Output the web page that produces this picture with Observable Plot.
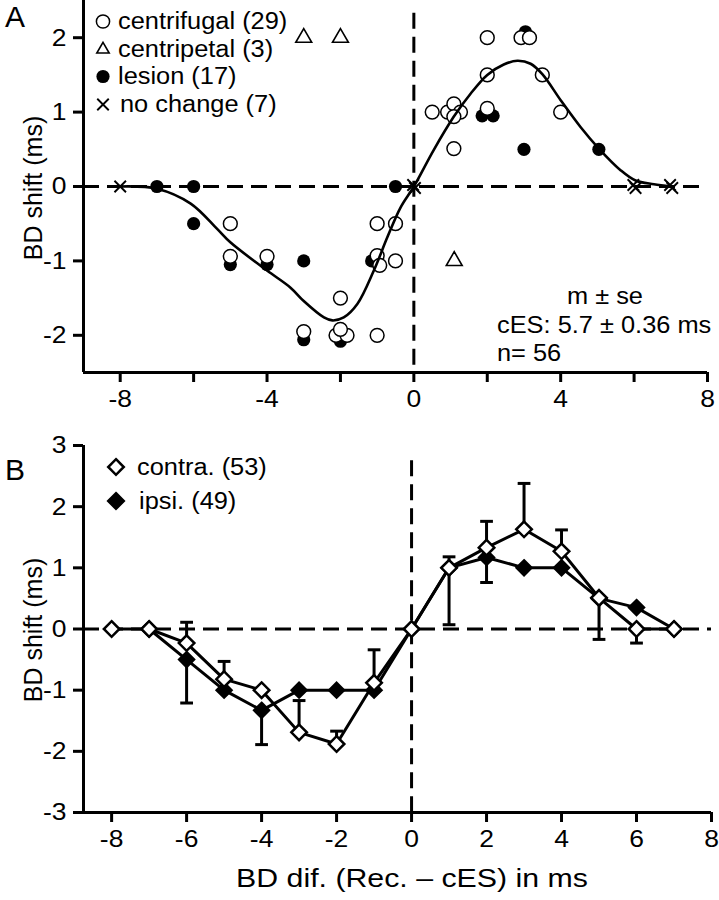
<!DOCTYPE html>
<html><head><meta charset="utf-8">
<script src="https://cdn.jsdelivr.net/npm/d3@7"></script>
<script src="https://cdn.jsdelivr.net/npm/@observablehq/plot@0.6"></script>
<style>
body{margin:0;background:#fff;}
#wrap{position:relative;width:719px;height:900px;background:#fff;}
#wrap svg{position:absolute;left:0;}
</style></head><body><div id="wrap"></div>
<script>
// ---------- Panel A data ----------
const centrifugalX = [-5,-5,-4,-3,-2,-2.12,-1.82,-2,-1,-1,-0.5,-1,-0.93,-0.5,0.5,0.92,1.09,1.27,1.09,1.09,2,2,2.92,3.15,2,3.5,4];
const centrifugalY = [-0.5,-0.94,-0.94,-1.95,-1.5,-2,-2,-1.92,-2,-0.5,-0.5,-0.93,-1.06,-1,1,1,1.11,1,0.94,0.51,1.05,2,2,2,1.5,1.5,1];
const centripetalX = [-3,-2,1.1];
const centripetalY = [2,2,-1];
const lesionX = [-7,-6,-6,-5,-4,-3,-3,-2,-1.15,-0.5,1.09,1.86,2.16,3.04,3,5.04];
const lesionY = [0,0,-0.5,-1.05,-1.05,-1,-2.06,-2.08,-1,0,1,0.95,0.95,2.08,0.5,0.5];
const noChangeX = [-8,-0.02,0.03,5.98,6.04,6.98,7.04];
const noChangeY = [0,0.02,-0.02,0.02,-0.02,0.02,-0.02];
const fitX = [-8,-7,-6.08,-5.36,-5,-4,-3.36,-3,-2.45,-2.22,-1.91,-1.54,-1.09,-0.72,-0.36,0,0.54,1.09,1.55,2,2.45,2.82,3.18,3.5,4,4.54,5.04,5.63,6.04,6.54,7];
const fitY = [0,-0.03,-0.23,-0.57,-0.75,-1.13,-1.36,-1.54,-1.76,-1.8,-1.76,-1.58,-1.13,-0.68,-0.28,0,0.49,0.94,1.25,1.5,1.64,1.69,1.65,1.51,1.16,0.8,0.51,0.22,0.08,0.03,0];
const legendA = ["centrifugal (29)","centripetal (3)","lesion (17)","no change (7)"];
const statsA = ["m \u00b1 se","cES: 5.7 \u00b1 0.36 ms","n= 56"];
const xTicks = [-8,-6,-4,-2,0,2,4,6,8];
const yTicksA = [-2,-1,0,1,2];

// ---------- Panel B data ----------
const contraX = [-8,-7,-6,-5,-4,-3,-2,-1,0,1,2,3,4,5,6,7];
const contraY = [0,0,-0.23,-0.82,-1.0,-1.69,-1.88,-0.88,0,1.0,1.33,1.63,1.27,0.51,0,0];
const ipsiX = [-7,-6,-5,-4,-3,-2,-1,0,1,2,3,4,5,6,7];
const ipsiY = [0,-0.5,-1.0,-1.33,-1.0,-1.0,-1.0,0,1.0,1.17,1.0,1.0,0.5,0.35,0];
const errX    = [-6,-6,-5,-4,-3,-2,-1,1,1,2,2,3,4,5,6];
const errFrom = [-0.23,-0.5,-0.82,-1.33,-1.69,-1.88,-0.88,1.0,1.0,1.33,1.17,1.63,1.27,0.51,0];
const errTo   = [0.11,-1.21,-0.53,-1.89,-1.17,-1.67,-0.34,1.18,0.07,1.76,0.76,2.38,1.62,-0.17,-0.23];
const legendB = ["contra. (53)","ipsi. (49)"];
const yTicksB = [-3,-2,-1,0,1,2,3];

const zip = (xs, ys) => xs.map((x, i) => ({x, y: ys[i]}));
const centrifugal = zip(centrifugalX, centrifugalY);
const centripetal = zip(centripetalX, centripetalY);
const lesion = zip(lesionX, lesionY);
const noChange = zip(noChangeX, noChangeY);
const fit = zip(fitX, fitY);
const contra = zip(contraX, contraY);
const ipsi = zip(ipsiX, ipsiY);
const errs = errX.map((x, i) => ({x, from: errFrom[i], to: errTo[i]}));

const FONT = "'Liberation Sans', Arial, Helvetica, sans-serif";
const DASH = "16,8";
const CAP = 0.17; // half cap width in x units
const TICKFS = 24.5;

const wrap = document.getElementById("wrap");

// ---------- Panel A ----------
const plotA = Plot.plot({
  width: 719, height: 430,
  marginLeft: 83, marginRight: 12, marginTop: 0, marginBottom: 58,
  style: {fontFamily: FONT, background: "transparent", overflow: "visible"},
  x: {domain: [-9, 8]},
  y: {domain: [-2.5, 2.5]},
  marks: [
    Plot.ruleY([0], {strokeWidth: 3, strokeDasharray: DASH}),
    Plot.ruleX([0], {y1: 2.33, y2: -2.5, strokeWidth: 3, strokeDasharray: DASH}),
    Plot.dot(lesion, {x: "x", y: "y", r: 6.6, fill: "black", stroke: "none"}),
    Plot.dot(centrifugal, {x: "x", y: "y", r: 6.9, fill: "white", stroke: "black", strokeWidth: 1.5}),
    Plot.dot(centripetal, {x: "x", y: "y", symbol: "triangle", r: 5.9, fill: "white", stroke: "black", strokeWidth: 1.6}),
    Plot.dot(noChange, {x: "x", y: "y", symbol: "times", r: 5.3, stroke: "black", strokeWidth: 1.9}),
    Plot.line(fit, {x: "x", y: "y", curve: "catmull-rom", strokeWidth: 2.6}),
    Plot.ruleX([-9], {strokeWidth: 3}),
    Plot.ruleY([-2.5], {strokeWidth: 3}),
    Plot.axisX({ticks: xTicks, tickFormat: d => d % 4 === 0 ? String(d) : "", tickSize: 10, tickPadding: 7, fontSize: TICKFS, strokeWidth: 3, label: null}),
    Plot.axisY({ticks: yTicksA, tickFormat: d => String(d), tickSize: 10, tickPadding: 7, fontSize: TICKFS, strokeWidth: 3, label: null})
  ]
});
plotA.style.top = "0px";
wrap.appendChild(plotA);

// ---------- Panel B ----------
const plotB = Plot.plot({
  width: 719, height: 470,
  marginLeft: 83, marginRight: 8, marginTop: 15, marginBottom: 88,
  style: {fontFamily: FONT, background: "transparent", overflow: "visible"},
  x: {domain: [-8.75, 8]},
  y: {domain: [-3, 3]},
  marks: [
    Plot.ruleY([0], {strokeWidth: 3, strokeDasharray: DASH}),
    Plot.ruleX([0], {y1: 2.75, y2: -3, strokeWidth: 3, strokeDasharray: DASH}),
    Plot.link(errs, {x1: "x", x2: "x", y1: "from", y2: "to", strokeWidth: 3}),
    Plot.link(errs, {x1: d => d.x - CAP, x2: d => d.x + CAP, y1: "to", y2: "to", strokeWidth: 3}),
    Plot.line(ipsi, {x: "x", y: "y", strokeWidth: 3}),
    Plot.line(contra, {x: "x", y: "y", strokeWidth: 3}),
    Plot.dot(ipsi, {x: "x", y: "y", symbol: "diamond2", r: 7, fill: "black", stroke: "black", strokeWidth: 2}),
    Plot.dot(contra, {x: "x", y: "y", symbol: "diamond2", r: 7, fill: "white", stroke: "black", strokeWidth: 2.5}),
    Plot.ruleX([-8.75], {strokeWidth: 3}),
    Plot.ruleY([-3], {strokeWidth: 3}),
    Plot.axisX({ticks: xTicks, tickFormat: d => String(d), tickSize: 10, tickPadding: 7, fontSize: TICKFS, strokeWidth: 3, label: null}),
    Plot.axisY({ticks: yTicksB, tickFormat: d => String(d), tickSize: 10, tickPadding: 7, fontSize: TICKFS, strokeWidth: 3, label: null})
  ]
});
plotB.style.top = "430px";
wrap.appendChild(plotB);

// ---------- annotations ----------
const sA = d3.select(plotA), sB = d3.select(plotB);
function txt(sel, x, y, s, size, anchor, rot) {
  const t = sel.append("text").attr("x", x).attr("y", y).attr("font-size", size)
    .attr("text-anchor", anchor || "start").attr("fill", "black").text(s);
  if (rot) t.attr("transform", `rotate(${rot},${x},${y})`);
  return t;
}
txt(sA, 5, 27, "A", 30).attr("data-k", "1");
txt(sB, 5, 50, "B", 30).attr("data-k", "1");
txt(sA, 42, 188, "BD shift (ms)", 25, "middle", -90).attr("data-k", "1");
txt(sB, 42, 200, "BD shift (ms)", 25, "middle", -90).attr("data-k", "1");
txt(sB, 412, 457, "BD dif. (Rec. \u2013 cES) in ms", 26, "middle").attr("data-k", "1.165");

// legend A
const legY = [28.5, 56.5, 83.5, 111.5];
const legSym = [d3.symbolCircle, d3.symbolTriangle2, d3.symbolCircle, d3.symbolTimes];
const legSize = [Math.PI*6.6*6.6, Math.PI*5.9*5.9, Math.PI*6.6*6.6, Math.PI*5.3*5.3];
const legFill = ["white","white","black","none"];
const legSW = [1.5,1.6,0,1.9];
legendA.forEach((s, i) => {
  sA.append("path").attr("d", d3.symbol(legSym[i], legSize[i])())
    .attr("transform", `translate(103,${legY[i]-7})`)
    .attr("fill", legFill[i]).attr("stroke", "black").attr("stroke-width", legSW[i]);
  txt(sA, i === 3 ? 120 : 118, legY[i], s, 23.5);
});
// stats text
txt(sA, 605, 304, statsA[0], 23.5, "middle");
txt(sA, 497, 333, statsA[1], 23.5);
txt(sA, 497, 361, statsA[2], 23.5);

// legend B
const legBY = [44.5, 78.5];
legendB.forEach((s, i) => {
  sB.append("path").attr("d", d3.symbol(d3.symbolDiamond2, Math.PI*7*7)())
    .attr("transform", `translate(116,${legBY[i]-7.5})`)
    .attr("fill", i === 0 ? "white" : "black").attr("stroke", "black").attr("stroke-width", 2.5);
  txt(sB, i === 0 ? 137 : 139, legBY[i], s, 23.5);
});

// widen glyphs (reference font is wider than Arial)
const K = 1.08;
[plotA, plotB].forEach(svg => {
  svg.querySelectorAll("text").forEach(t => {
    const k = t.getAttribute("data-k") ? +t.getAttribute("data-k") : K;
    const len = t.getComputedTextLength();
    if (len > 0 && k !== 1) {
      t.setAttribute("textLength", len * k);
      t.setAttribute("lengthAdjust", "spacingAndGlyphs");
    }
  });
});
</script></body></html>
